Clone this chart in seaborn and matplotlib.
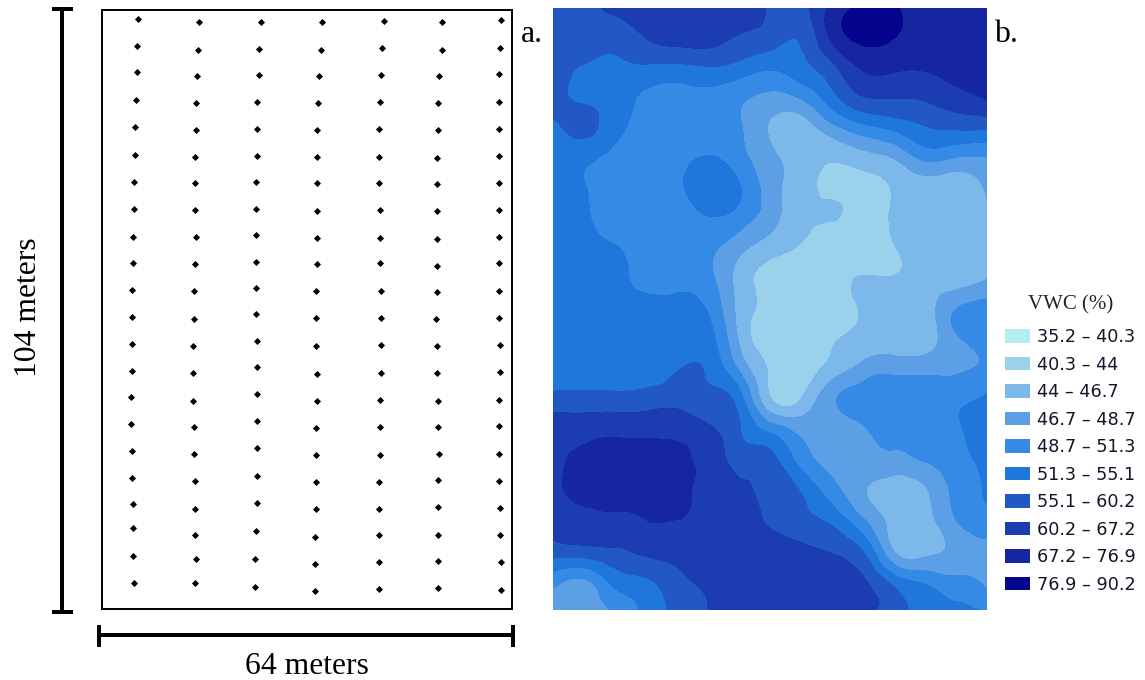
import numpy as np
import pandas as pd
import seaborn as sns
import matplotlib
matplotlib.use("Agg")
import matplotlib.pyplot as plt
import matplotlib.tri as mtri
from matplotlib.patches import Patch

# Sampling points (picture units), one list per column
col_x = [
    [138.3,137.3,137.3,136,135,135,134,134,133,133,132,132,132,132,131,131,132,132,133,133,133,134],
    [199,198,197,195.7,195.7,194.7,194.7,194.7,195.7,194.7,193.7,193.7,192.7,192.7,192.7,193.7,193.7,194.7,194.7,194.7,195.7,194.7],
    [260.7,258.7,258.7,257.3,257.3,257.3,256.3,256.3,256.3,256.3,256.3,256.3,257.3,257.3,257.3,257.3,257.3,257.3,257.3,256.3,255.3,255.3],
    [322.3,321.3,319.3,318.3,317,317,317,317,317,317,316,316,316,317,317,316,316,316,316,315,315,315],
    [384,382,381,380,378.7,378.7,378.7,380,380,380,381,381,381,381,380,380,380,378.7,378.7,378.7,378.7,378.7],
    [441.7,441.7,439.3,438.3,438.3,437.3,437.3,437.3,437.3,437.3,437.3,436.3,437.3,437.3,438.3,438.3,439.3,438.3,438.3,438.3,438.3,438.3],
    [501.3,500,499,499,499,499,499,499,499,499,499,499,500,500,499,499,499,499,500,500,501.3,501.3],
]
col_y = [
    [19,45.7,72.3,100,127,154.7,182.3,209,236.7,263.3,290.3,317.3,344,370.7,397.3,424.3,451.3,478,503.7,528.3,556,583],
    [21.7,49.7,76.3,103,130,156.7,183.3,210,236.7,264.3,291.3,319.3,346,372.7,400.7,427.3,454,481,508.7,535.3,559.3,583],
    [21.7,48.7,75.3,102,128.7,155.7,182.3,209,235,261.7,288.3,314.3,341,367,393.7,421.3,448.3,476,502.7,531.3,559.3,587],
    [21.7,49.7,76.3,103,130,156.7,183.3,211,237.7,264.3,291.3,318.3,346,373.7,400.7,428.3,455,481.7,508.7,537.3,564.3,591],
    [21,47.7,75.3,102,128.7,156.7,183.3,210,237.7,263.3,291.3,318.3,345,372.7,399.7,427.3,455,481.7,508.7,535.3,562.3,589],
    [21.7,49.7,76.3,103,130,157.7,184.3,211,238.7,265.7,292.3,319.3,346,372.7,400.7,427.3,454,480,506.7,534.7,561.3,588],
    [19.7,47.7,74.3,102,128.7,155.7,183.3,210,236.7,263.3,291.3,318.3,345,371.7,399.7,426.3,454,481,507.7,535.3,562.3,590],
]

# VWC map read on a coarse grid, top row first, as position among the class bands
# (3.5 = halfway through the 4th band of the legend)
band_position = [
    [6.6,6.6,7.3,7.5,7.5,7.5,7.3,6.9,6.7,8.3,9.2,9.1,8.7,8.6,8.5],
    [6.5,6.5,6.3,7.0,7.4,7.4,6.9,6.5,6.1,8.2,9.2,9.0,8.7,8.6,8.5],
    [6.6,5.9,5.8,5.8,5.7,5.9,5.6,5.1,5.6,6.7,8.1,8.15,8.1,8.4,8.5],
    [6.6,5.8,5.4,4.8,4.6,4.6,4.2,3.7,4.05,5.6,6.9,7.0,7.1,7.6,8.1],
    [5.7,6.3,5.3,4.6,4.4,4.3,4.1,2.9,2.4,3.6,4.6,5.2,5.9,6.1,6.1],
    [5.4,5.2,4.7,4.4,4.6,5.1,4.4,3.3,2.4,2.1,2.5,3.0,4.2,3.9,3.9],
    [5.6,5.05,4.6,4.5,4.8,5.6,5.1,3.5,2.4,1.8,1.7,2.05,2.4,2.3,3.1],
    [5.6,5.2,4.4,4.4,4.4,4.9,4.5,3.4,2.3,2.05,1.6,2.1,2.4,2.5,2.9],
    [5.8,5.6,5.1,4.5,4.4,4.2,3.3,2.4,1.9,1.4,1.3,1.95,2.4,2.5,2.6],
    [5.8,5.6,5.3,4.7,4.7,4.3,2.6,1.7,1.5,1.5,2.1,2.05,2.4,2.5,3.0],
    [5.7,5.6,5.5,5.4,5.2,4.9,2.7,1.8,1.6,1.4,2.1,2.3,2.5,4.0,4.4],
    [5.7,5.6,5.6,5.5,5.3,5.4,2.9,1.4,1.5,1.9,2.3,2.4,2.5,3.8,4.4],
    [5.45,5.4,5.4,5.4,5.95,5.85,3.9,1.9,1.6,2.4,3.4,3.7,3.7,3.8,4.2],
    [6.4,6.4,6.4,6.5,6.6,6.3,5.5,2.1,2.0,3.8,4.4,4.6,4.6,4.8,5.2],
    [7.5,7.6,7.7,7.7,7.8,7.2,6.1,4.7,3.7,3.3,3.9,4.3,4.5,4.9,5.6],
    [7.7,8.3,8.6,8.5,8.1,7.7,6.6,6.3,4.6,3.6,3.6,3.7,4.1,4.7,5.3],
    [7.6,8.4,8.5,8.5,8.3,7.6,7.2,6.7,5.9,4.4,3.1,2.5,2.9,4.3,5.1],
    [7.4,7.7,7.8,8.0,8.0,7.6,7.3,6.9,6.4,5.7,4.1,2.6,2.6,4.0,4.6],
    [6.5,6.7,6.9,7.3,7.4,7.6,7.6,7.4,7.2,6.9,5.9,2.9,2.6,3.3,3.7],
    [4.4,3.9,5.4,5.9,6.7,7.2,7.4,7.5,7.5,7.4,7.1,5.5,4.7,4.2,3.7],
    [3.3,3.5,4.1,5.3,6.3,7.0,7.3,7.4,7.4,7.3,7.1,6.5,5.7,5.2,4.9],
]

band_labels = ["35.2 – 40.3","40.3 – 44","44 – 46.7","46.7 – 48.7","48.7 – 51.3",
               "51.3 – 55.1","55.1 – 60.2","60.2 – 67.2","67.2 – 76.9","76.9 – 90.2"]
band_colors = ["#B5EDEE","#9AD2EC","#7DB8EA","#5C9FE4","#358AE5",
               "#1F76DB","#2158C4","#1C3DB2","#1626A0","#05048C"]

W, H = 1145, 680
sns.set_theme(style="white")
SERIF = "Liberation Serif"
fig = plt.figure(figsize=(W/100, H/100), dpi=100, facecolor="white")

def axes_px(x0, y0, x1, y1, **kw):
    return fig.add_axes([x0/W, 1-y1/H, (x1-x0)/W, (y1-y0)/H], **kw)

# overlay in picture pixels for scale bars and captions
ov = axes_px(0, 0, W, H)
ov.set_xlim(0, W); ov.set_ylim(H, 0); ov.axis("off")

# left panel
ax = axes_px(102, 10, 512, 609)
pts = pd.DataFrame({"x": np.concatenate(col_x), "y": np.concatenate(col_y)})
sns.scatterplot(data=pts, x="x", y="y", marker="D", s=13, color="black", linewidth=0, ax=ax)
ax.set_xlim(102, 512); ax.set_ylim(609, 10)
ax.set_xticks([]); ax.set_yticks([]); ax.set_xlabel(""); ax.set_ylabel("")
for s in ax.spines.values():
    s.set_visible(True); s.set_color("black"); s.set_linewidth(1.4)

# right panel
m = axes_px(553, 8, 987, 610)
z = np.array(band_position)
gx, gy = np.meshgrid(np.linspace(0, 64, z.shape[1]), np.linspace(104, 0, z.shape[0]))
tri = mtri.Triangulation(gx.ravel(), gy.ravel())
refiner = mtri.UniformTriRefiner(tri)
tri2, z2 = refiner.refine_field(z.ravel(), subdiv=3)
m.tricontourf(tri2, z2, levels=np.arange(0, 11), colors=band_colors, antialiased=False)
m.set_xlim(0, 64); m.set_ylim(0, 104); m.axis("off")

# legend
handles = [Patch(facecolor=c, edgecolor="none", label=l) for c, l in zip(band_colors, band_labels)]
leg = fig.legend(handles=handles, loc="upper left", bbox_to_anchor=(1005/W, 1-295/H),
                 bbox_transform=fig.transFigure, frameon=False, title="VWC (%)",
                 prop={"family": "DejaVu Sans", "size": 12.7},
                 title_fontproperties={"family": SERIF, "size": 15},
                 handlelength=1.42, handleheight=0.8, handletextpad=0.4,
                 labelspacing=0.54, borderpad=0, borderaxespad=0)
leg._legend_box.sep = 10
for t in leg.get_texts():
    t.set_color("#15152a")

# scale bars
lw = 4 * 72 / 100
for xs, ys in [([62, 62], [8, 612]), ([52, 73], [9, 9]), ([52, 73], [612, 612]),
               ([99, 513], [635, 635]), ([99, 99], [625, 647]), ([513, 513], [625, 647])]:
    ov.plot(xs, ys, color="black", lw=lw, solid_capstyle="butt")

ov.text(28, 307, "104 meters", rotation=90, ha="center", va="center", family=SERIF, size=22.8, color="black")
ov.text(307, 667, "64 meters", ha="center", va="center", family=SERIF, size=22.8, color="black")
ov.text(521, 42, "a.", ha="left", va="baseline", family=SERIF, size=22.8, color="black")
ov.text(995, 42, "b.", ha="left", va="baseline", family=SERIF, size=22.8, color="black")

fig.savefig("out.png", dpi=100)
